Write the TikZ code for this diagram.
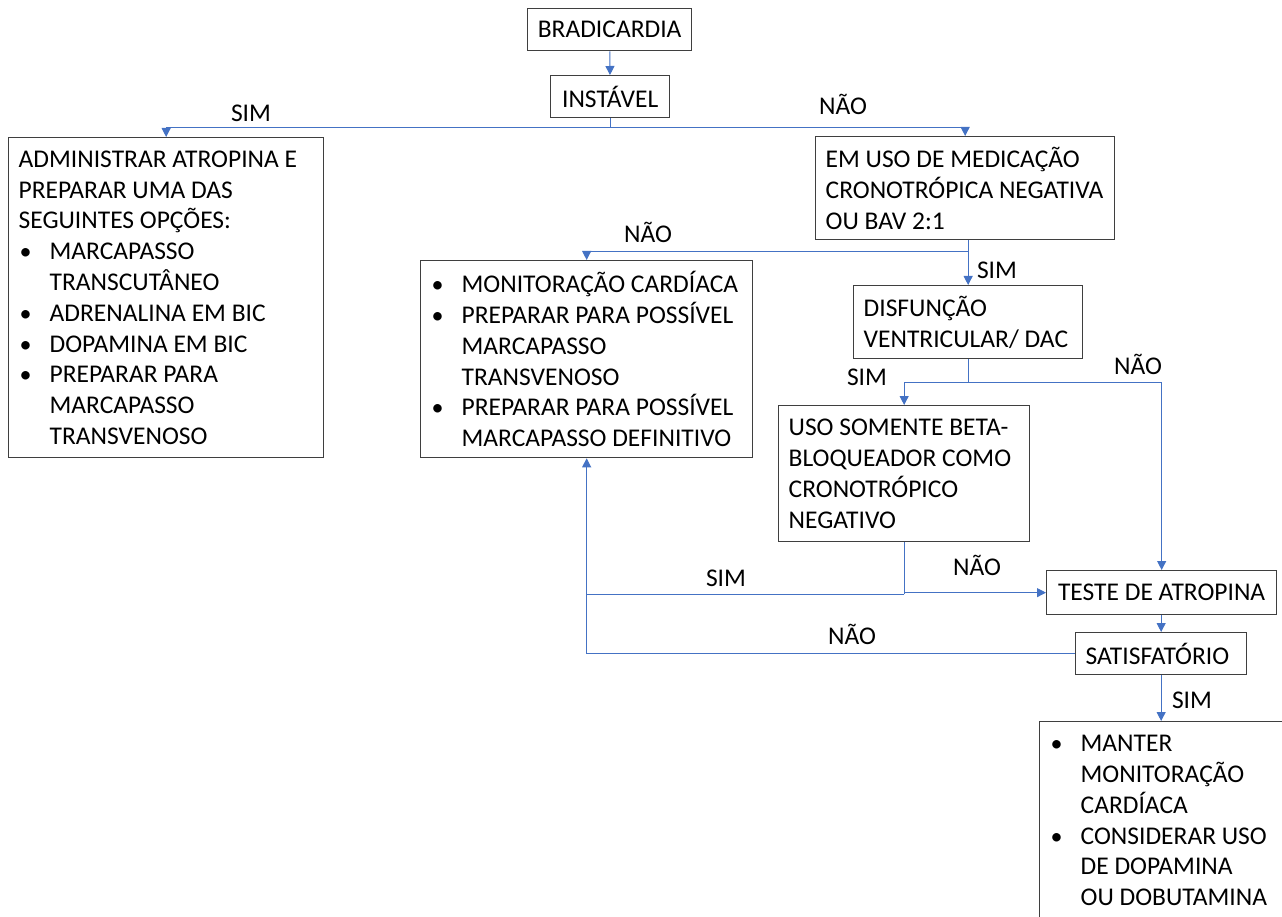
\documentclass[tikz,border=0pt]{standalone}
\usepackage{fontspec}
\setmainfont{Carlito}
\usepackage{xcolor}
\usetikzlibrary{arrows.meta}
\definecolor{linkblue}{HTML}{4472C4}
\definecolor{boxgray}{HTML}{3F3F3F}
\newcommand\bul{\makebox[31pt][l]{\hspace{1pt}{\fontsize{24}{24}\selectfont\textbullet}}}
\newcommand\ind{\hspace*{31pt}}

\begin{document}
\begin{tikzpicture}[
      x=1pt, y=-1pt,
      font=\fontsize{25.5}{30.8}\selectfont,
      box/.style = {shape=rectangle, draw=boxgray, line width=1.3pt, anchor=north west, align=flush left, inner xsep=10pt, inner ysep=0pt},
      ctrbox/.style = {box, align=flush center},
      link/.style = {draw=linkblue, line width=1pt},
      arr/.style = {link, -{Triangle[length=9pt,width=9pt]}},
      answer/.style = {inner sep=0pt}
    ]
      \clip (0,0) rectangle (1282,917);
      \node[ctrbox, text width=144pt, minimum height=42pt] (brad) at (527,8) {BRADICARDIA};
      \node[ctrbox, text width=99pt, minimum height=42pt] (inst) at (550,75) {INSTÁVEL};
      \node[box, text width=295pt, minimum height=320pt] (atrop) at (8,137) {ADMINISTRAR ATROPINA E\\
        PREPARAR UMA DAS\\
        SEGUINTES OPÇÕES:\\
        \bul MARCAPASSO\\
        \ind TRANSCUTÂNEO\\
        \bul ADRENALINA EM BIC\\
        \bul DOPAMINA EM BIC\\
        \bul PREPARAR PARA\\
        \ind MARCAPASSO\\
        \ind TRANSVENOSO};
      \node[box, text width=279pt, minimum height=103pt] (cronot) at (815,136) {EM USO DE MEDICAÇÃO\\
        CRONOTRÓPICA NEGATIVA\\
        OU BAV 2:1};
      \node[box, text width=312pt, minimum height=197pt] (monit) at (420,260) {\bul MONITORAÇÃO CARDÍACA\\
        \bul PREPARAR PARA POSSÍVEL\\
        \ind MARCAPASSO\\
        \ind TRANSVENOSO\\
        \bul PREPARAR PARA POSSÍVEL\\
        \ind MARCAPASSO DEFINITIVO};
      \node[box, text width=209pt, minimum height=73pt] (disf) at (853,285) {DISFUNÇÃO\\
        VENTRICULAR/ DAC};
      \node[box, text width=231pt, minimum height=136pt] (beta) at (778,405) {USO SOMENTE BETA-\\
        BLOQUEADOR COMO\\
        CRONOTRÓPICO\\
        NEGATIVO};
      \node[ctrbox, text width=210pt, minimum height=44pt] (teste) at (1046,570) {TESTE DE ATROPINA};
      \node[box, text width=151pt, minimum height=42pt] (satisf) at (1075,632) {SATISFATÓRIO};
      \node[box, text width=240pt, minimum height=198pt] (manter) at (1039,721) {\bul MANTER\\
        \ind MONITORAÇÃO\\
        \ind CARDÍACA\\
        \bul CONSIDERAR USO\\
        \ind DE DOPAMINA\\
        \ind OU DOBUTAMINA};

      \draw[arr] (brad) -- (inst);
      \draw[link] (inst.south) -- ++(0,9) coordinate (split1);
      \draw[arr] (split1) -| (atrop.north);
      \draw[arr] (split1) -| (cronot.north);
      \coordinate (split2) at (disf.north |- cronot.south);
      \draw[arr] (split2) -- (disf.north);
      \draw[arr] (split2) -- ++(0,11) -| (monit.north);
      \draw[link] (disf.south) -- ++(0,23) coordinate (split3);
      \draw[arr] (split3) -| (beta.north);
      \draw[arr] (split3) -| (teste.north);
      \draw[link] (beta.south) -- ++(0,52) coordinate (split4);
      \draw[arr] (split4) -| (monit.south);
      \draw[link] (split4) -- (split4 |- teste.west);
      \draw[arr] (split4 |- teste.west) -- (teste.west);
      \draw[arr] (teste.south -| satisf.north) -- (satisf.north);
      \draw[link] (satisf.west) -| (monit.south |- split4);
      \draw[arr] (satisf.south) -- (satisf.south |- manter.north);

      \node[answer] (sim1) at (251,113) {SIM};
      \node[answer] (nao1) at (843,104) {NÃO};
      \node[answer] (nao2) at (648,232) {NÃO};
      \node[answer] (sim2) at (997,270) {SIM};
      \node[answer] (sim3) at (867,377) {SIM};
      \node[answer] (nao3) at (1138,364) {NÃO};
      \node[answer] (sim4) at (726,578) {SIM};
      \node[answer] (nao4) at (977,565) {NÃO};
      \node[answer] (nao5) at (852,634) {NÃO};
      \node[answer] (sim5) at (1192,700) {SIM};
    \end{tikzpicture}
\end{document}
